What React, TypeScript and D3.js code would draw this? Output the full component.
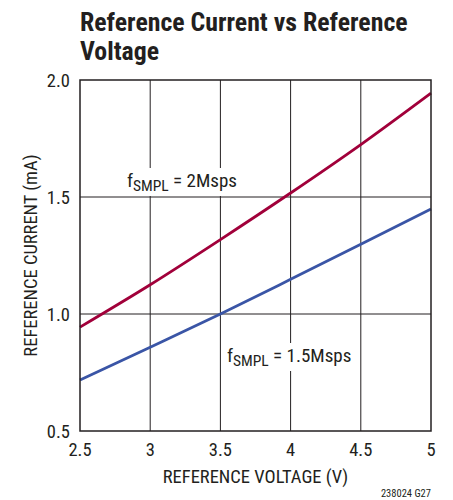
import { useEffect, useRef } from 'react';
import * as d3 from 'd3';

// reference voltage (V)
const voltage = [2.5, 3, 3.5, 4, 4.5, 5];
// reference current (mA) at 2Msps / 1.5Msps
const current2M = [0.944, 1.125, 1.318, 1.517, 1.724, 1.944];
const current15M = [0.718, 0.858, 1.0, 1.148, 1.298, 1.449];

const xTicks = [2.5, 3, 3.5, 4, 4.5, 5];
const xTickLabels = ['2.5', '3', '3.5', '4', '4.5', '5'];
const yTicks = [0.5, 1.0, 1.5, 2.0];
const yTickLabels = ['0.5', '1.0', '1.5', '2.0'];

const FONT = '"Roboto Condensed", "Liberation Sans Narrow", sans-serif';

const App = () => {
  const ref = useRef<SVGSVGElement>(null);

  useEffect(() => {
    const svg = d3.select(ref.current);
    svg.selectAll('*').remove();

    const left = 80, right = 431, top = 80, bottom = 431;
    const x = d3.scaleLinear().domain([2.5, 5]).range([left, right]);
    const y = d3.scaleLinear().domain([0.5, 2.0]).range([bottom, top]);

    // title
    const title = svg.append('text')
      .attr('font-family', FONT)
      .attr('font-weight', 'bold')
      .attr('font-size', 25.8)
      .attr('fill', '#231f20');
    title.append('tspan').attr('x', 80).attr('y', 31).text('Reference Current vs Reference');
    title.append('tspan').attr('x', 80).attr('y', 60).text('Voltage');

    // grid
    const grid = svg.append('g').attr('stroke', '#231f20').attr('stroke-width', 1);
    xTicks.slice(1, -1).forEach(t => {
      grid.append('line').attr('x1', x(t)).attr('x2', x(t)).attr('y1', top).attr('y2', bottom);
    });
    yTicks.slice(1, -1).forEach(t => {
      grid.append('line').attr('x1', left).attr('x2', right).attr('y1', y(t)).attr('y2', y(t));
    });

    // curves
    const line = d3.line<number>()
      .x((_, i) => x(voltage[i]))
      .y(d => y(d))
      .curve(d3.curveMonotoneX);

    svg.append('path')
      .datum(current2M)
      .attr('fill', 'none')
      .attr('stroke', '#a1003a')
      .attr('stroke-width', 2.8)
      .attr('d', line);

    svg.append('path')
      .datum(current15M)
      .attr('fill', 'none')
      .attr('stroke', '#3a55a6')
      .attr('stroke-width', 2.8)
      .attr('d', line);

    // labels with white backing
    const addLabel = (lx: number, ly: number, value: string) => {
      const g = svg.append('g');
      const bg = g.append('rect').attr('fill', 'white');
      const t = g.append('text')
        .attr('x', lx).attr('y', ly)
        .attr('font-family', FONT)
        .attr('font-size', 19)
        .attr('fill', '#231f20');
      t.append('tspan').text('f');
      t.append('tspan').attr('font-size', 15.5).attr('dy', 4).text('SMPL');
      t.append('tspan').attr('dy', -4).text(' = ' + value);
      const bb = (t.node() as SVGTextElement).getBBox();
      bg.attr('x', bb.x - 3).attr('y', bb.y - 1).attr('width', bb.width + 6).attr('height', bb.height + 2);
    };
    addLabel(127, 187, '2Msps');
    addLabel(227, 362, '1.5Msps');

    // frame
    svg.append('rect')
      .attr('x', left).attr('y', top)
      .attr('width', right - left).attr('height', bottom - top)
      .attr('fill', 'none')
      .attr('stroke', '#231f20')
      .attr('stroke-width', 1.5);

    // tick labels
    svg.append('g').selectAll('text')
      .data(xTicks)
      .join('text')
      .attr('x', d => x(d))
      .attr('y', 456)
      .attr('text-anchor', 'middle')
      .attr('font-family', FONT)
      .attr('font-size', 18.5)
      .attr('fill', '#231f20')
      .text((_, i) => xTickLabels[i]);

    svg.append('g').selectAll('text')
      .data(yTicks)
      .join('text')
      .attr('x', 70)
      .attr('y', d => y(d) + 6.5)
      .attr('text-anchor', 'end')
      .attr('font-family', FONT)
      .attr('font-size', 18.5)
      .attr('fill', '#231f20')
      .text((_, i) => yTickLabels[i]);

    // axis titles
    svg.append('text')
      .attr('x', (left + right) / 2)
      .attr('y', 483)
      .attr('text-anchor', 'middle')
      .attr('font-family', FONT)
      .attr('font-size', 18.5)
      .attr('fill', '#231f20')
      .text('REFERENCE VOLTAGE (V)');

    svg.append('text')
      .attr('transform', `translate(37,${(top + bottom) / 2}) rotate(-90)`)
      .attr('text-anchor', 'middle')
      .attr('font-family', FONT)
      .attr('font-size', 18.5)
      .attr('fill', '#231f20')
      .text('REFERENCE CURRENT (mA)');

    svg.append('text')
      .attr('x', right)
      .attr('y', 497)
      .attr('text-anchor', 'end')
      .attr('font-family', FONT)
      .attr('font-size', 10.5)
      .attr('fill', '#231f20')
      .text('238024 G27');
  }, []);

  return (
    <svg ref={ref} width={453} height={500}
      style={{ position: 'absolute', left: 0, top: 0, background: 'white' }} />
  );
};

export default App;
